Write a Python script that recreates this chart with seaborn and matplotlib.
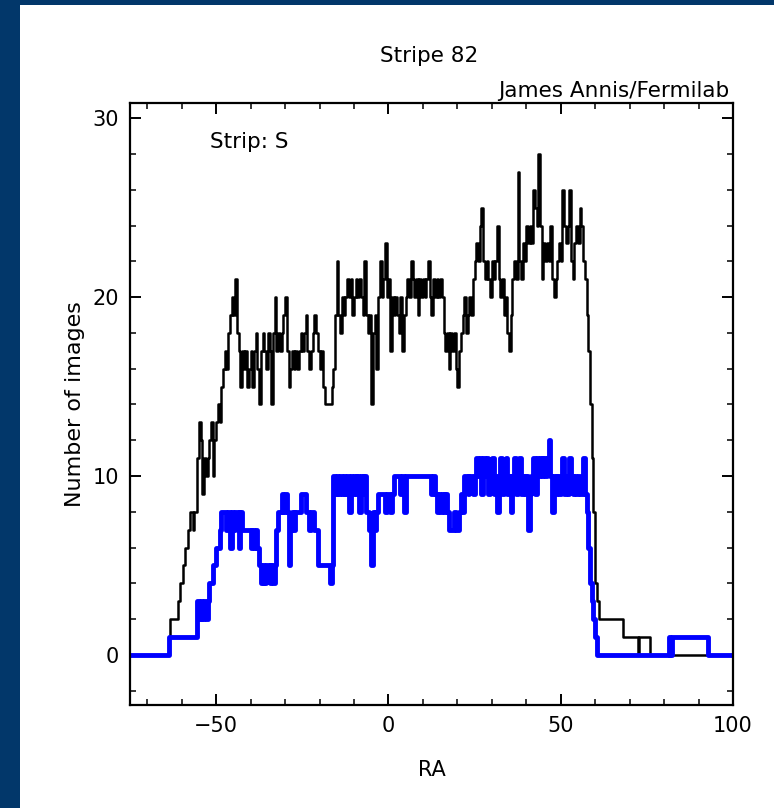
import matplotlib.pyplot as plt
import numpy as np
import pandas as pd
import seaborn as sns
from matplotlib.patches import Rectangle
from matplotlib.ticker import MultipleLocator

sns.set_style('ticks')
plt.rcParams['font.family'] = ['DejaVu Sans']
plt.rcParams.update({'text.color': 'black', 'axes.labelcolor': 'black',
                     'xtick.color': 'black', 'ytick.color': 'black'})

# counts per 0.5 deg RA bin, first bin starts at RA = -56
bin_start = -56.0
bin_width = 0.5

# all images (black)
black_counts = [
    8, 11, 13, 12, 9, 11, 10, 11, 12, 13,      # -56
    10, 12, 13, 14, 13, 15, 16, 17, 16, 18,    # -51
    19, 20, 19, 21, 18, 17, 15, 17, 16, 17,    # -46
    15, 16, 17, 15, 17, 18, 16, 14, 17, 18,    # -41
    17, 16, 18, 17, 14, 18, 20, 17, 18, 17,    # -36
    18, 19, 20, 17, 15, 16, 17, 16, 17, 16,    # -31
    17, 18, 17, 18, 19, 17, 16, 17, 18, 19,    # -26
    18, 17, 16, 17, 15, 14, 14, 14, 14, 15,    # -21
    16, 19, 22, 19, 18, 20, 19, 20, 21, 20,    # -16
    21, 19, 20, 21, 20, 21, 20, 19, 22, 19,    # -11
    18, 19, 14, 18, 19, 16, 20, 22, 20, 21,    # -6
    23, 20, 21, 17, 20, 19, 20, 19, 18, 20,    # -1
    17, 19, 20, 21, 20, 22, 21, 20, 21, 19,    # 4
    21, 20, 21, 20, 21, 22, 20, 19, 21, 20,    # 9
    21, 20, 21, 20, 18, 17, 18, 16, 18, 17,    # 14
    18, 16, 15, 17, 18, 19, 20, 18, 19, 20,    # 19
    19, 21, 22, 23, 22, 24, 25, 22, 21, 22,    # 24
    21, 20, 22, 21, 22, 24, 21, 20, 21, 19,    # 29
    20, 18, 17, 19, 21, 22, 21, 27, 22, 21,    # 34
    23, 22, 24, 23, 24, 23, 26, 25, 24, 28,    # 39
    24, 21, 23, 22, 23, 22, 24, 21, 20, 21,    # 44
    22, 23, 22, 26, 24, 23, 24, 26, 22, 21,    # 49
    23, 24, 23, 25, 24, 22, 21, 19, 17, 14,    # 54
    11, 8, 4, 3,                               # 59
]

# good images (blue)
blue_counts = [
    1, 3, 2, 3, 2, 3, 2, 3, 4, 4,              # -56
    5, 5, 6, 6, 7, 8, 8, 8, 7, 8,              # -51
    6, 8, 7, 8, 8, 6, 8, 7, 7, 7,              # -46
    7, 7, 6, 7, 6, 7, 6, 5, 4, 5,              # -41
    4, 5, 5, 4, 5, 4, 5, 7, 8, 8,              # -36
    9, 8, 9, 8, 5, 7, 8, 7, 8, 8,              # -31
    8, 9, 9, 9, 8, 8, 7, 8, 8, 7,              # -26
    7, 5, 5, 5, 5, 5, 5, 5, 4, 5,              # -21
    10, 9, 10, 9, 10, 9, 10, 9, 10, 8,         # -16
    10, 9, 10, 9, 10, 8, 10, 9, 10, 8,         # -11
    8, 7, 5, 8, 7, 8, 9, 9, 9, 9,              # -6
    8, 9, 9, 8, 9, 10, 10, 10, 10, 9,          # -1
    10, 8, 10, 10, 10, 10, 10, 10, 10, 10,     # 4
    10, 10, 10, 10, 10, 10, 10, 9, 10, 9,      # 9
    8, 9, 8, 9, 8, 9, 8, 7, 7, 7,              # 14
    8, 7, 7, 8, 9, 8, 10, 10, 9, 10,           # 19
    10, 9, 10, 11, 10, 11, 9, 11, 10, 11,      # 24
    9, 10, 11, 9, 10, 8, 10, 11, 9, 10,        # 29
    11, 9, 10, 8, 10, 11, 9, 10, 11, 9,        # 34
    10, 9, 10, 7, 9, 10, 11, 9, 11, 10,        # 39
    11, 10, 11, 10, 11, 12, 10, 8, 10, 9,      # 44
    10, 9, 10, 11, 9, 10, 9, 11, 10, 9,        # 49
    10, 9, 10, 9, 9, 11, 9, 8, 6, 4,           # 54
    3, 2, 1,                                   # 59
]

# flat parts outside the binned range (RA where the value starts, value)
black_head_ra = [-75.0, -63.8, -63.4, -61.2, -60.4, -59.7, -58.9, -58.2, -57.7, -56.8, -56.5]
black_head_n = [0, 1, 2, 3, 4, 5, 6, 7, 8, 7, 8]
black_tail_ra = [61.0, 68.2, 72.4, 72.7, 76.0, 100.0]
black_tail_n = [2, 1, 0, 1, 0, 0]

blue_head_ra = [-75.0, -63.6]
blue_head_n = [0, 1]
blue_tail_ra = [60.5, 81.3, 81.8, 82.2, 92.6, 100.0]
blue_tail_n = [0, 1, 0, 1, 0, 0]


def build(head_ra, head_n, counts, tail_ra, tail_n):
    bins = bin_start + bin_width * np.arange(len(counts))
    ra = np.concatenate([head_ra, bins, tail_ra])
    n = np.concatenate([head_n, counts, tail_n])
    return pd.DataFrame({'RA': ra, 'N': n})


df_black = build(black_head_ra, black_head_n, black_counts, black_tail_ra, black_tail_n)
df_blue = build(blue_head_ra, blue_head_n, blue_counts, blue_tail_ra, blue_tail_n)

navy = '#02376a'
fig = plt.figure(figsize=(7.74, 8.08), dpi=100, facecolor=navy)
# white panel inside the navy frame
fig.patches.append(Rectangle((20 / 774, 0), 1, 803 / 808, transform=fig.transFigure,
                             facecolor='white', edgecolor='none', zorder=-1))

ax = fig.add_axes([130 / 774, 103 / 808, 603 / 774, 602 / 808])
ax.set_zorder(1)
ax.set_facecolor('white')

sns.lineplot(data=df_black, x='RA', y='N', drawstyle='steps-post', estimator=None,
             sort=False, color='black', linewidth=1.8, ax=ax)
sns.lineplot(data=df_blue, x='RA', y='N', drawstyle='steps-post', estimator=None,
             sort=False, color='#0000ff', linewidth=3.5, ax=ax)

ax.set_xlim(-75, 100)
ax.set_ylim(-2.8, 30.85)
ax.xaxis.set_major_locator(MultipleLocator(50))
ax.xaxis.set_minor_locator(MultipleLocator(10))
ax.yaxis.set_major_locator(MultipleLocator(10))
ax.yaxis.set_minor_locator(MultipleLocator(2))
ax.tick_params(which='both', direction='in', top=True, right=True, color='black')
ax.tick_params(which='major', length=8, width=1.4, labelsize=15, pad=8)
ax.tick_params(which='minor', length=4, width=1.1)
for sp in ax.spines.values():
    sp.set_linewidth(1.6)
    sp.set_color('black')

ax.set_xlabel('RA', fontsize=15)
ax.set_ylabel('Number of images', fontsize=16)
ax.xaxis.set_label_coords(0.5, -0.108)
ax.xaxis.label.set_va('center')
ax.yaxis.set_label_coords(-0.091, 0.5)
ax.yaxis.label.set_va('center')

fig.text(429 / 774, 1 - 62 / 808, 'Stripe 82', ha='center', va='baseline', fontsize=15.5)
fig.text(729 / 774, 1 - 97 / 808, 'James Annis/Fermilab', ha='right', va='baseline', fontsize=15.5)
ax.text(210 / 774, 1 - 148 / 808, 'Strip: S', transform=fig.transFigure,
        ha='left', va='baseline', fontsize=15.5)

fig.savefig('out.png', dpi=100, facecolor=navy)
